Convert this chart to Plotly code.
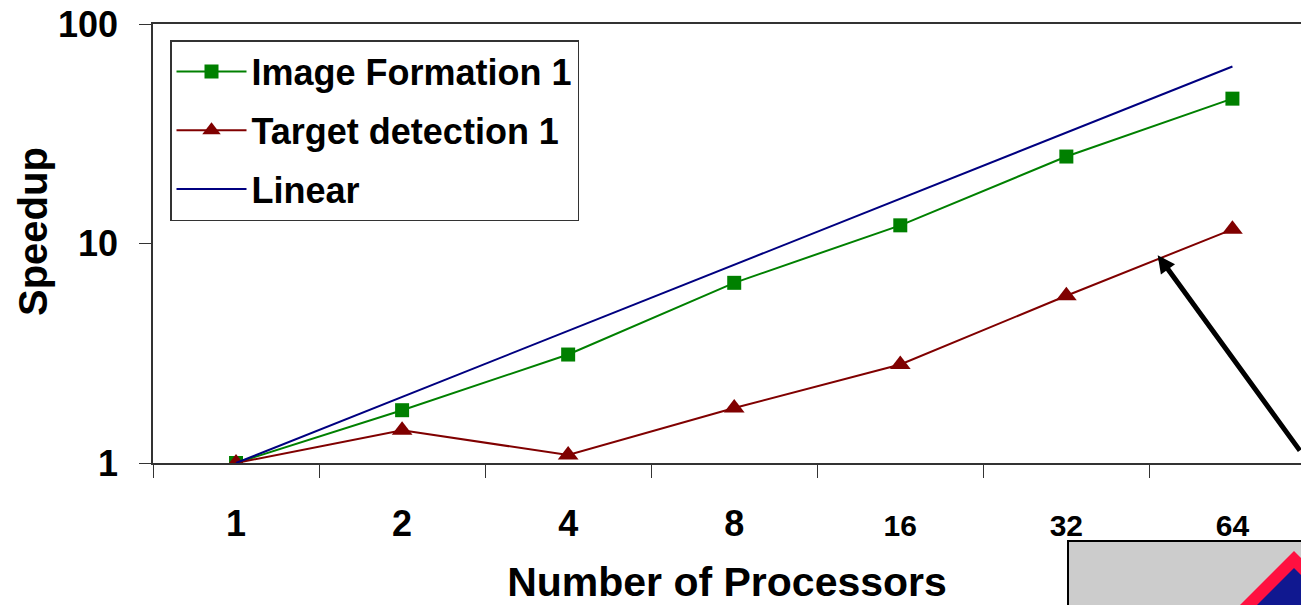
import plotly.graph_objects as go
import math

# ---------------- data ----------------
processors = ["1", "2", "4", "8", "16", "32", "64"]
image_formation = [1.0, 1.74, 3.12, 6.62, 12.1, 24.9, 45.7]
target_detection = [1.0, 1.41, 1.087, 1.78, 2.81, 5.78, 11.6]
linear = [1, 2, 4, 8, 16, 32, 64]
y_tick_values = [1, 10, 100]
y_tick_labels = ["1", "10", "100"]
series_names = ["Image Formation 1", "Target detection 1", "Linear"]
x_title = "Number of Processors"
y_title = "Speedup"

# ---------------- geometry helpers ----------------
W, H = 1301, 605
ML, MR, MT, MB = 153, 0, 24, 142
PW, PH = W - ML - MR, H - MT - MB


def px(x):
    return (x - ML) / PW


def py(y):
    return (H - MB - y) / PH


FONT = "Liberation Sans, Arial, sans-serif"
GREEN = "#008000"
RED = "#800000"
NAVY = "#000080"

x_tick_text = [
    p if len(p) == 1 else '<span style="font-size:30px">' + p + "</span>"
    for p in processors
]

fig = go.Figure()
fig.add_trace(go.Scatter(
    x=processors, y=image_formation, name=series_names[0], mode="lines+markers",
    line=dict(color=GREEN, width=2), legendgroup="a",
    marker=dict(symbol="square", size=14, color=GREEN, line=dict(width=0)),
))
fig.add_trace(go.Scatter(
    x=processors, y=target_detection, name=series_names[1], mode="lines+markers",
    line=dict(color=RED, width=2), legendgroup="b",
    marker=dict(symbol="triangle-up", size=18, color=RED, line=dict(width=0)),
))
fig.add_trace(go.Scatter(
    x=processors, y=linear, name=series_names[2], mode="lines",
    line=dict(color=NAVY, width=2), legendgroup="c",
))

# arrow annotation
fig.add_annotation(
    x=5.55, y=math.log10(8.85), xref="x", yref="y", text="",
    showarrow=True, ax=150, ay=197, arrowhead=2, arrowsize=0.7,
    arrowwidth=5, arrowcolor="black",
)

# y axis title placed as a rotated annotation
fig.add_annotation(
    x=px(33), y=py(232), xref="paper", yref="paper", text=y_title,
    showarrow=False, textangle=-90, xanchor="center", yanchor="middle",
    font=dict(family=FONT, size=40, color="black", weight="bold"),
)

# decorative box at bottom right
fig.add_shape(type="rect", xref="paper", yref="paper",
              x0=px(1068), x1=px(1320), y0=py(541), y1=py(620),
              fillcolor="#cccccc", line=dict(color="black", width=2), layer="above")
fig.add_shape(type="path", xref="paper", yref="paper",
              path="M {},{} L {},{} L {},{} Z".format(px(1294), py(551), px(1352), py(609), px(1236), py(609)),
              fillcolor="#ff1040", line=dict(width=0), layer="above")
fig.add_shape(type="path", xref="paper", yref="paper",
              path="M {},{} L {},{} L {},{} Z".format(px(1294), py(568), px(1335), py(609), px(1253), py(609)),
              fillcolor="#101890", line=dict(width=0), layer="above")

fig.update_layout(
    width=W, height=H, autosize=False,
    margin=dict(l=ML, r=MR, t=MT, b=MB, pad=0),
    paper_bgcolor="white", plot_bgcolor="white",
    font=dict(family=FONT, color="black", weight="bold"),
    showlegend=True,
    legend=dict(
        x=px(170), y=py(40), xanchor="left", yanchor="top",
        bgcolor="white", bordercolor="#333333", borderwidth=1.5,
        font=dict(family=FONT, size=36, color="black", weight="bold"),
        itemwidth=70, tracegroupgap=9, traceorder="grouped",
    ),
    xaxis=dict(
        type="category", categoryorder="array", categoryarray=processors,
        range=[-0.5, 6.413], tickson="boundaries",
        tickmode="array", tickvals=processors, ticktext=x_tick_text,
        ticks="outside", ticklen=13, tickwidth=1, tickcolor="#333333",
        showline=True, linecolor="#333333", linewidth=1.5, mirror=True,
        showgrid=False, zeroline=False,
        tickfont=dict(family=FONT, size=36, color="black", weight="bold"),
        ticklabelstandoff=28,
        title=dict(text=x_title, standoff=26,
                   font=dict(family=FONT, size=41, color="black", weight="bold")),
    ),
    yaxis=dict(
        type="log", range=[0, 2],
        tickmode="array", tickvals=y_tick_values, ticktext=y_tick_labels,
        ticks="outside", ticklen=12, tickwidth=1, tickcolor="#333333",
        showline=True, linecolor="#333333", linewidth=1.5, mirror=False,
        showgrid=False, zeroline=False, minor=dict(ticks="", showgrid=False),
        tickfont=dict(family=FONT, size=36, color="black", weight="bold"),
        ticklabelstandoff=14,
    ),
)

fig.write_html(
    "out.html",
    config={"displayModeBar": False},
    post_script="document.body.style.margin='0';document.body.style.overflow='hidden';",
)
